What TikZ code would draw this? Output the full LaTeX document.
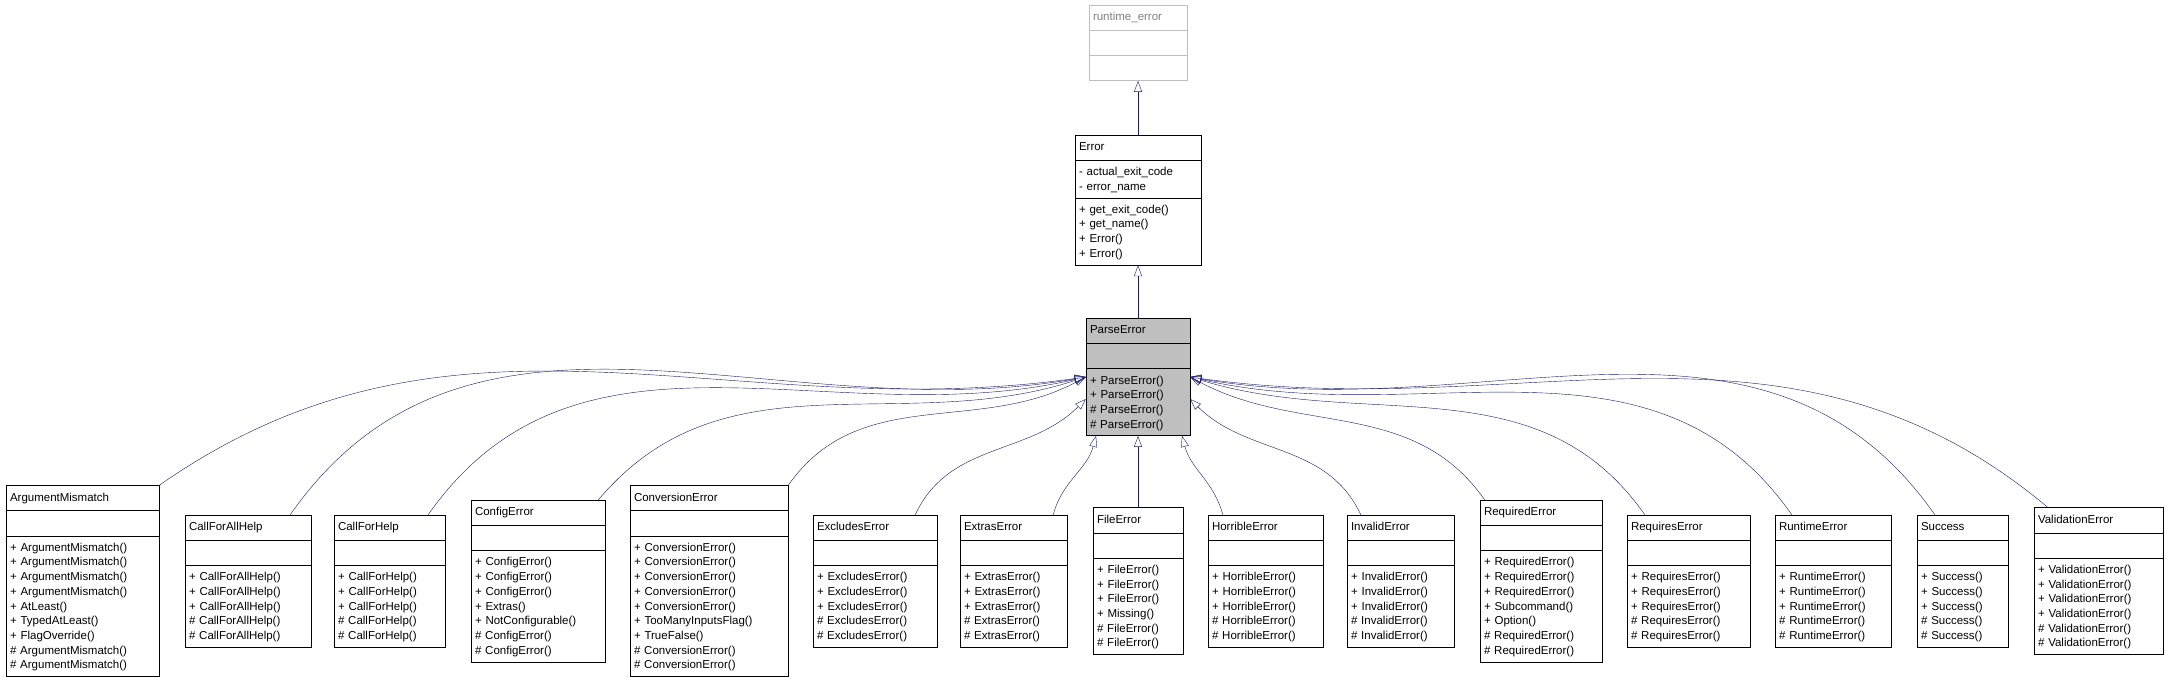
\documentclass[tikz,border=0pt]{standalone}
\usepackage{fontspec}
\setmainfont{Liberation Sans}
\usetikzlibrary{shapes.multipart,arrows.meta}
\definecolor{edgeblue}{HTML}{191970}
\definecolor{boxgray}{HTML}{BFBFBF}
\begin{document}
\begin{tikzpicture}[x=1pt,y=-1pt,
	cls/.style={draw=black, rectangle split, rectangle split parts=3, inner xsep=4pt, inner ysep=5pt,
		font=\fontsize{11.5}{14.7}\selectfont},
	inh/.style={draw=edgeblue, -{Triangle[open,width=8pt,length=11pt]}}]
	\useasboundingbox (0,0) rectangle (2167,684);
	% base classes
	\node[cls, draw=boxgray, text=gray, text width=90pt] (runtime_error) at (1138,43) {\centering\strut runtime\_error\nodepart{two}\strut\nodepart{three}\strut};
	\node[cls, text width=118pt] (Error) at (1138,200) {\centering\strut Error\nodepart{two}\raggedright\strut - actual\_exit\_code\\- error\_name\nodepart{three}\raggedright\strut + get\_exit\_code()\\+ get\_name()\\+ Error()\\+ Error()};
	\node[cls, fill=boxgray, text width=96pt] (ParseError) at (1138,377) {\centering\strut ParseError\nodepart{two}\strut\nodepart{three}\raggedright\strut + ParseError()\\+ ParseError()\\\# ParseError()\\\# ParseError()};
	% derived classes
	\node[cls, text width=145pt] (ArgumentMismatch) at (82.5,581) {\centering\strut ArgumentMismatch\nodepart{two}\strut\nodepart{three}\raggedright\strut + ArgumentMismatch()\\+ ArgumentMismatch()\\+ ArgumentMismatch()\\+ ArgumentMismatch()\\+ AtLeast()\\+ TypedAtLeast()\\+ FlagOverride()\\\# ArgumentMismatch()\\\# ArgumentMismatch()};
	\node[cls, text width=118pt] (CallForAllHelp) at (248,581) {\centering\strut CallForAllHelp\nodepart{two}\strut\nodepart{three}\raggedright\strut + CallForAllHelp()\\+ CallForAllHelp()\\+ CallForAllHelp()\\\# CallForAllHelp()\\\# CallForAllHelp()};
	\node[cls, text width=103pt] (CallForHelp) at (389.5,581) {\centering\strut CallForHelp\nodepart{two}\strut\nodepart{three}\raggedright\strut + CallForHelp()\\+ CallForHelp()\\+ CallForHelp()\\\# CallForHelp()\\\# CallForHelp()};
	\node[cls, text width=126pt] (ConfigError) at (538,581) {\centering\strut ConfigError\nodepart{two}\strut\nodepart{three}\raggedright\strut + ConfigError()\\+ ConfigError()\\+ ConfigError()\\+ Extras()\\+ NotConfigurable()\\\# ConfigError()\\\# ConfigError()};
	\node[cls, text width=150pt] (ConversionError) at (709,581) {\centering\strut ConversionError\nodepart{two}\strut\nodepart{three}\raggedright\strut + ConversionError()\\+ ConversionError()\\+ ConversionError()\\+ ConversionError()\\+ ConversionError()\\+ TooManyInputsFlag()\\+ TrueFalse()\\\# ConversionError()\\\# ConversionError()};
	\node[cls, text width=116pt] (ExcludesError) at (875,581) {\centering\strut ExcludesError\nodepart{two}\strut\nodepart{three}\raggedright\strut + ExcludesError()\\+ ExcludesError()\\+ ExcludesError()\\\# ExcludesError()\\\# ExcludesError()};
	\node[cls, text width=99pt] (ExtrasError) at (1013.5,581) {\centering\strut ExtrasError\nodepart{two}\strut\nodepart{three}\raggedright\strut + ExtrasError()\\+ ExtrasError()\\+ ExtrasError()\\\# ExtrasError()\\\# ExtrasError()};
	\node[cls, text width=82pt] (FileError) at (1138,581) {\centering\strut FileError\nodepart{two}\strut\nodepart{three}\raggedright\strut + FileError()\\+ FileError()\\+ FileError()\\+ Missing()\\\# FileError()\\\# FileError()};
	\node[cls, text width=107pt] (HorribleError) at (1265.5,581) {\centering\strut HorribleError\nodepart{two}\strut\nodepart{three}\raggedright\strut + HorribleError()\\+ HorribleError()\\+ HorribleError()\\\# HorribleError()\\\# HorribleError()};
	\node[cls, text width=99pt] (InvalidError) at (1400.5,581) {\centering\strut InvalidError\nodepart{two}\strut\nodepart{three}\raggedright\strut + InvalidError()\\+ InvalidError()\\+ InvalidError()\\\# InvalidError()\\\# InvalidError()};
	\node[cls, text width=114pt] (RequiredError) at (1541,581) {\centering\strut RequiredError\nodepart{two}\strut\nodepart{three}\raggedright\strut + RequiredError()\\+ RequiredError()\\+ RequiredError()\\+ Subcommand()\\+ Option()\\\# RequiredError()\\\# RequiredError()};
	\node[cls, text width=115pt] (RequiresError) at (1688.5,581) {\centering\strut RequiresError\nodepart{two}\strut\nodepart{three}\raggedright\strut + RequiresError()\\+ RequiresError()\\+ RequiresError()\\\# RequiresError()\\\# RequiresError()};
	\node[cls, text width=108pt] (RuntimeError) at (1833,581) {\centering\strut RuntimeError\nodepart{two}\strut\nodepart{three}\raggedright\strut + RuntimeError()\\+ RuntimeError()\\+ RuntimeError()\\\# RuntimeError()\\\# RuntimeError()};
	\node[cls, text width=83pt] (Success) at (1962.5,581) {\centering\strut Success\nodepart{two}\strut\nodepart{three}\raggedright\strut + Success()\\+ Success()\\+ Success()\\\# Success()\\\# Success()};
	\node[cls, text width=121pt] (ValidationError) at (2098.5,581) {\centering\strut ValidationError\nodepart{two}\strut\nodepart{three}\raggedright\strut + ValidationError()\\+ ValidationError()\\+ ValidationError()\\+ ValidationError()\\\# ValidationError()\\\# ValidationError()};
	% inheritance
	\draw[inh] (Error) -- (runtime_error);
	\draw[inh] (ParseError) -- (Error);
	\draw[inh] (ArgumentMismatch.north east) to[out=35,in=188] (ParseError.west);
	\draw[inh] ([xshift=-21pt]CallForAllHelp.north east) to[out=55,in=190] (ParseError.west);
	\draw[inh] ([xshift=-17pt]CallForHelp.north east) to[out=55,in=193] (ParseError.west);
	\draw[inh] ([xshift=-7pt]ConfigError.north east) to[out=50,in=198] (ParseError.west);
	\draw[inh] (ConversionError.north east) to[out=55,in=208] (ParseError.west);
	\draw[inh] ([xshift=-22pt]ExcludesError.north east) to[out=65,in=225] ([yshift=-22pt]ParseError.west);
	\draw[inh] ([xshift=-14pt]ExtrasError.north east) to[out=75,in=255] ([xshift=-42pt]ParseError.south);
	\draw[inh] (FileError) -- (ParseError);
	\draw[inh] ([xshift=15pt]HorribleError.north west) to[out=105,in=-75] ([xshift=44pt]ParseError.south);
	\draw[inh] ([xshift=14pt]InvalidError.north west) to[out=115,in=-45] ([yshift=-22pt]ParseError.east);
	\draw[inh] ([xshift=5pt]RequiredError.north west) to[out=125,in=-28] (ParseError.east);
	\draw[inh] ([xshift=18pt]RequiresError.north west) to[out=125,in=-17] (ParseError.east);
	\draw[inh] ([xshift=17pt]RuntimeError.north west) to[out=125,in=-13] (ParseError.east);
	\draw[inh] ([xshift=18pt]Success.north west) to[out=125,in=-10] (ParseError.east);
	\draw[inh] ([xshift=14pt]ValidationError.north west) to[out=140,in=-8] (ParseError.east);
\end{tikzpicture}
\end{document}
